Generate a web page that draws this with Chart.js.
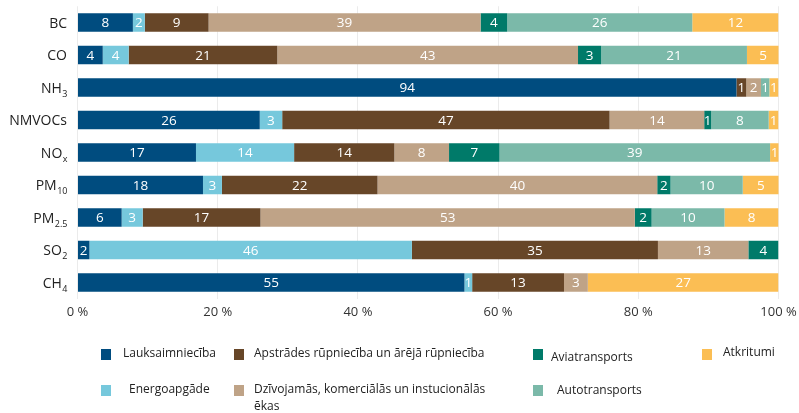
<!DOCTYPE html>
<html lang="lv">
<head>
<meta charset="utf-8">
<title>Emisijas pa sektoriem</title>
<script src="https://cdn.jsdelivr.net/npm/chart.js@4.4.1/dist/chart.umd.min.js"></script>
<style>
    html, body { margin: 0; padding: 0; background: #fff; }
    #wrap { width: 799px; height: 413px; }
</style>
</head>
<body>
<div id="wrap"><canvas id="emissionsChart" width="799" height="413"></canvas></div>
<script>
// Pollutants (y axis) and their subscript parts
const categories = ['BC', 'CO', 'NH3', 'NMVOCs', 'NOx', 'PM10', 'PM2.5', 'SO2', 'CH4'];
const subscripts = ['', '', '3', '', 'x', '10', '2.5', '2', '4'];

// Sector shares, % (same order as categories)
const lauksaimnieciba = [7.9, 3.6, 94.0, 26.0, 16.9, 17.9, 6.3, 1.7, 55.2];
const energoapgade    = [1.7, 3.7, 0, 3.2, 14.0, 2.7, 3.0, 46.0, 1.1];
const apstrades       = [9.1, 21.2, 1.4, 46.7, 14.3, 22.2, 16.8, 35.1, 13.1];
const dzivojamas      = [38.8, 42.9, 2.1, 13.5, 7.8, 39.9, 53.4, 12.9, 3.4];
const aviatransports  = [3.8, 3.3, 0, 1.0, 7.2, 1.9, 2.4, 4.3, 0];
const autotransports  = [26.4, 20.8, 1.2, 8.2, 38.6, 10.3, 10.4, 0, 0];
const atkritumi       = [12.3, 4.6, 1.3, 1.4, 1.3, 5.2, 7.7, 0, 27.2];

const xTicks = [0, 20, 40, 60, 80, 100];

const FONT = "'Open Sans', 'DejaVu Sans', sans-serif";

// Datasets in stacking order
const sectors = [
    { label: 'Lauksaimniecība', data: lauksaimnieciba, color: '#004c7f' },
    { label: 'Energoapgāde', data: energoapgade, color: '#76c8dc' },
    { label: 'Apstrādes rūpniecība un ārējā rūpniecība', data: apstrades, color: '#674628' },
    { label: 'Dzīvojamās, komerciālās un instucionālās\nēkas', data: dzivojamas, color: '#bfa387' },
    { label: 'Aviatransports', data: aviatransports, color: '#007a69' },
    { label: 'Autotransports', data: autotransports, color: '#7bb9a9' },
    { label: 'Atkritumi', data: atkritumi, color: '#fbbe54' }
];

// Where each legend entry sits (square x/y, text x/y)
const legendSpots = [
    { x: 101, y: 349, tx: 123, ty: 354 },
    { x: 101, y: 385, tx: 129, ty: 390 },
    { x: 234, y: 349, tx: 254, ty: 354 },
    { x: 234, y: 385, tx: 254, ty: 390 },
    { x: 533, y: 349, tx: 551, ty: 358 },
    { x: 533, y: 385, tx: 557, ty: 391 },
    { x: 702, y: 349, tx: 723, ty: 353 }
];

// Value labels inside every segment
const segmentLabels = {
    id: 'segmentLabels',
    afterDatasetsDraw(chart) {
        const ctx = chart.ctx;
        ctx.save();
        ctx.font = '13.5px ' + FONT;
        ctx.fillStyle = '#ffffff';
        ctx.textAlign = 'center';
        ctx.textBaseline = 'middle';
        chart.data.datasets.forEach((ds, i) => {
            const meta = chart.getDatasetMeta(i);
            meta.data.forEach((bar, j) => {
                const v = ds.data[j];
                if (!v) return;
                const p = bar.getProps(['x', 'base', 'y'], true);
                ctx.fillText(String(Math.round(v)), (p.x + p.base) / 2, p.y + 1);
            });
        });
        ctx.restore();
    }
};

// Pollutant names with subscripts on the left
const pollutantLabels = {
    id: 'pollutantLabels',
    afterDraw(chart) {
        const ctx = chart.ctx;
        const yScale = chart.scales.y;
        const right = 67;
        ctx.save();
        ctx.fillStyle = '#222222';
        ctx.textBaseline = 'alphabetic';
        ctx.textAlign = 'left';
        categories.forEach((cat, i) => {
            const sub = subscripts[i];
            const base = sub ? cat.slice(0, cat.length - sub.length) : cat;
            const y = yScale.getPixelForValue(i);
            ctx.font = '14px ' + FONT;
            const wBase = ctx.measureText(base).width;
            ctx.font = '9px ' + FONT;
            const wSub = sub ? ctx.measureText(sub).width : 0;
            const x0 = right - wBase - wSub;
            ctx.font = '14px ' + FONT;
            ctx.fillText(base, x0, y + 5);
            if (sub) {
                ctx.font = '9px ' + FONT;
                ctx.fillText(sub, x0 + wBase + 0.5, y + 9);
            }
        });
        ctx.restore();
    }
};

// Two-row legend under the chart
const sectorLegend = {
    id: 'sectorLegend',
    afterDraw(chart) {
        const ctx = chart.ctx;
        ctx.save();
        ctx.font = '12px ' + FONT;
        ctx.textBaseline = 'middle';
        ctx.textAlign = 'left';
        chart.data.datasets.forEach((ds, i) => {
            const spot = legendSpots[i];
            ctx.fillStyle = ds.backgroundColor;
            ctx.fillRect(spot.x, spot.y, 10, 11);
            ctx.fillStyle = '#222222';
            ds.label.split('\n').forEach((line, k) => {
                ctx.fillText(line, spot.tx, spot.ty + k * 17);
            });
        });
        ctx.restore();
    }
};

new Chart(document.getElementById('emissionsChart').getContext('2d'), {
    type: 'bar',
    data: {
        labels: categories,
        datasets: sectors.map(s => ({
            label: s.label,
            data: s.data,
            backgroundColor: s.color,
            borderWidth: 0,
            barPercentage: 0.57,
            categoryPercentage: 1
        }))
    },
    options: {
        indexAxis: 'y',
        responsive: false,
        animation: false,
        layout: {
            padding: { left: 77.5, right: 20.5, top: 6.25, bottom: 0 }
        },
        plugins: {
            legend: { display: false },
            tooltip: { enabled: false }
        },
        scales: {
            x: {
                stacked: true,
                min: 0,
                max: 100,
                afterBuildTicks: scale => {
                    scale.ticks = xTicks.map(v => ({ value: v }));
                },
                afterFit: scale => {
                    scale.height = 114.25;
                    scale.paddingLeft = 0;
                    scale.paddingRight = 0;
                },
                ticks: {
                    callback: v => v + ' %',
                    color: '#333333',
                    padding: 6,
                    maxRotation: 0,
                    font: { size: 13, family: FONT }
                },
                grid: { color: '#ebebeb', drawTicks: false },
                border: { display: false }
            },
            y: {
                stacked: true,
                display: false
            }
        }
    },
    plugins: [segmentLabels, pollutantLabels, sectorLegend]
});
</script>
</body>
</html>
